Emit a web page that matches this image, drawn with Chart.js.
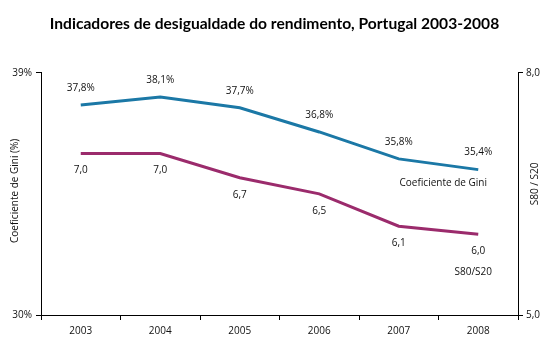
<!DOCTYPE html>
<html>
<head>
<meta charset="utf-8">
<script src="https://cdn.jsdelivr.net/npm/chart.js@4/dist/chart.umd.min.js"></script>
<style>
  html, body { margin: 0; padding: 0; background: #fff; }
  #wrap { width: 549px; height: 341px; }
</style>
</head>
<body>
<div id="wrap"><canvas id="chart" width="549" height="341"></canvas></div>
<script>
const years = ['2003', '2004', '2005', '2006', '2007', '2008'];
const gini = [37.8, 38.1, 37.7, 36.8, 35.8, 35.4];
const s80s20 = [7.0, 7.0, 6.7, 6.5, 6.1, 6.0];
const giniTicks = [30, 39];
const ratioTicks = [5, 8];

const blue = '#1b78a6';
const purple = '#9b2b6c';
const smallFont = { family: 'Open Sans', size: 10 };

const fmt = v => v.toFixed(1).replace('.', ',');

// value labels, series names and rotated axis titles
const labelsPlugin = {
    id: 'labels',
    afterDatasetsDraw(chart) {
        const c = chart.ctx;
        c.save();
        c.font = '10px "Open Sans"';
        c.fillStyle = '#111';
        c.textAlign = 'center';
        c.textBaseline = 'middle';

        const g = chart.getDatasetMeta(0).data;
        g.forEach((p, i) => c.fillText(fmt(gini[i]) + '%', p.x, p.y - 17));
        const r = chart.getDatasetMeta(1).data;
        r.forEach((p, i) => c.fillText(fmt(s80s20[i]), p.x, p.y + 17));

        const gl = g[g.length - 1], rl = r[r.length - 1];
        c.fillText('Coeficiente de Gini', gl.x - 35, gl.y + 14);
        c.fillText('S80/S20', rl.x - 5, rl.y + 38);

        const area = chart.chartArea;
        const midY = (area.top + area.bottom) / 2;
        c.translate(15, midY - 3);
        c.rotate(-Math.PI / 2);
        c.fillText('Coeficiente de Gini (%)', 0, 0);
        c.setTransform(1, 0, 0, 1, 0, 0);
        c.translate(535, midY - 10);
        c.rotate(-Math.PI / 2);
        c.fillText('S80 / S20', 0, 0);
        c.restore();
    }
};

new Chart(document.getElementById('chart'), {
    type: 'line',
    data: {
        labels: years,
        datasets: [
            { label: 'Coeficiente de Gini', data: gini, yAxisID: 'y', borderColor: blue, borderWidth: 3, pointRadius: 0, tension: 0 },
            { label: 'S80/S20', data: s80s20, yAxisID: 'y2', borderColor: purple, borderWidth: 3, pointRadius: 0, tension: 0 }
        ]
    },
    options: {
        responsive: false,
        animation: false,
        layout: { padding: 0 },
        plugins: {
            legend: { display: false },
            tooltip: { enabled: false },
            title: {
                display: true,
                text: 'Indicadores de desigualdade do rendimento, Portugal 2003-2008',
                color: '#000',
                font: { family: 'Lato', size: 15.6, weight: 'bold' },
                padding: { top: 15, bottom: 39 }
            }
        },
        scales: {
            x: {
                offset: true,
                grid: { offset: true, drawOnChartArea: false, tickLength: 5, color: '#000' },
                border: { color: '#000', width: 1 },
                ticks: { color: '#111', font: smallFont, padding: 5, maxRotation: 0 },
                afterFit: s => { s.height = 26; }
            },
            y: {
                position: 'left',
                min: 30, max: 39,
                afterBuildTicks: s => { s.ticks = giniTicks.map(v => ({ value: v })); },
                grid: { drawOnChartArea: false, tickLength: 5, color: '#000' },
                border: { color: '#000', width: 1 },
                ticks: { color: '#111', font: smallFont, padding: 4, callback: v => v + '%' },
                afterFit: s => { s.width = 41; }
            },
            y2: {
                position: 'right',
                min: 5, max: 8,
                afterBuildTicks: s => { s.ticks = ratioTicks.map(v => ({ value: v })); },
                grid: { drawOnChartArea: false, tickLength: 5, color: '#000' },
                border: { color: '#000', width: 1 },
                ticks: { color: '#111', font: smallFont, padding: 3, callback: v => fmt(v) },
                afterFit: s => { s.width = 31; }
            }
        }
    },
    plugins: [labelsPlugin]
});
</script>
</body>
</html>
